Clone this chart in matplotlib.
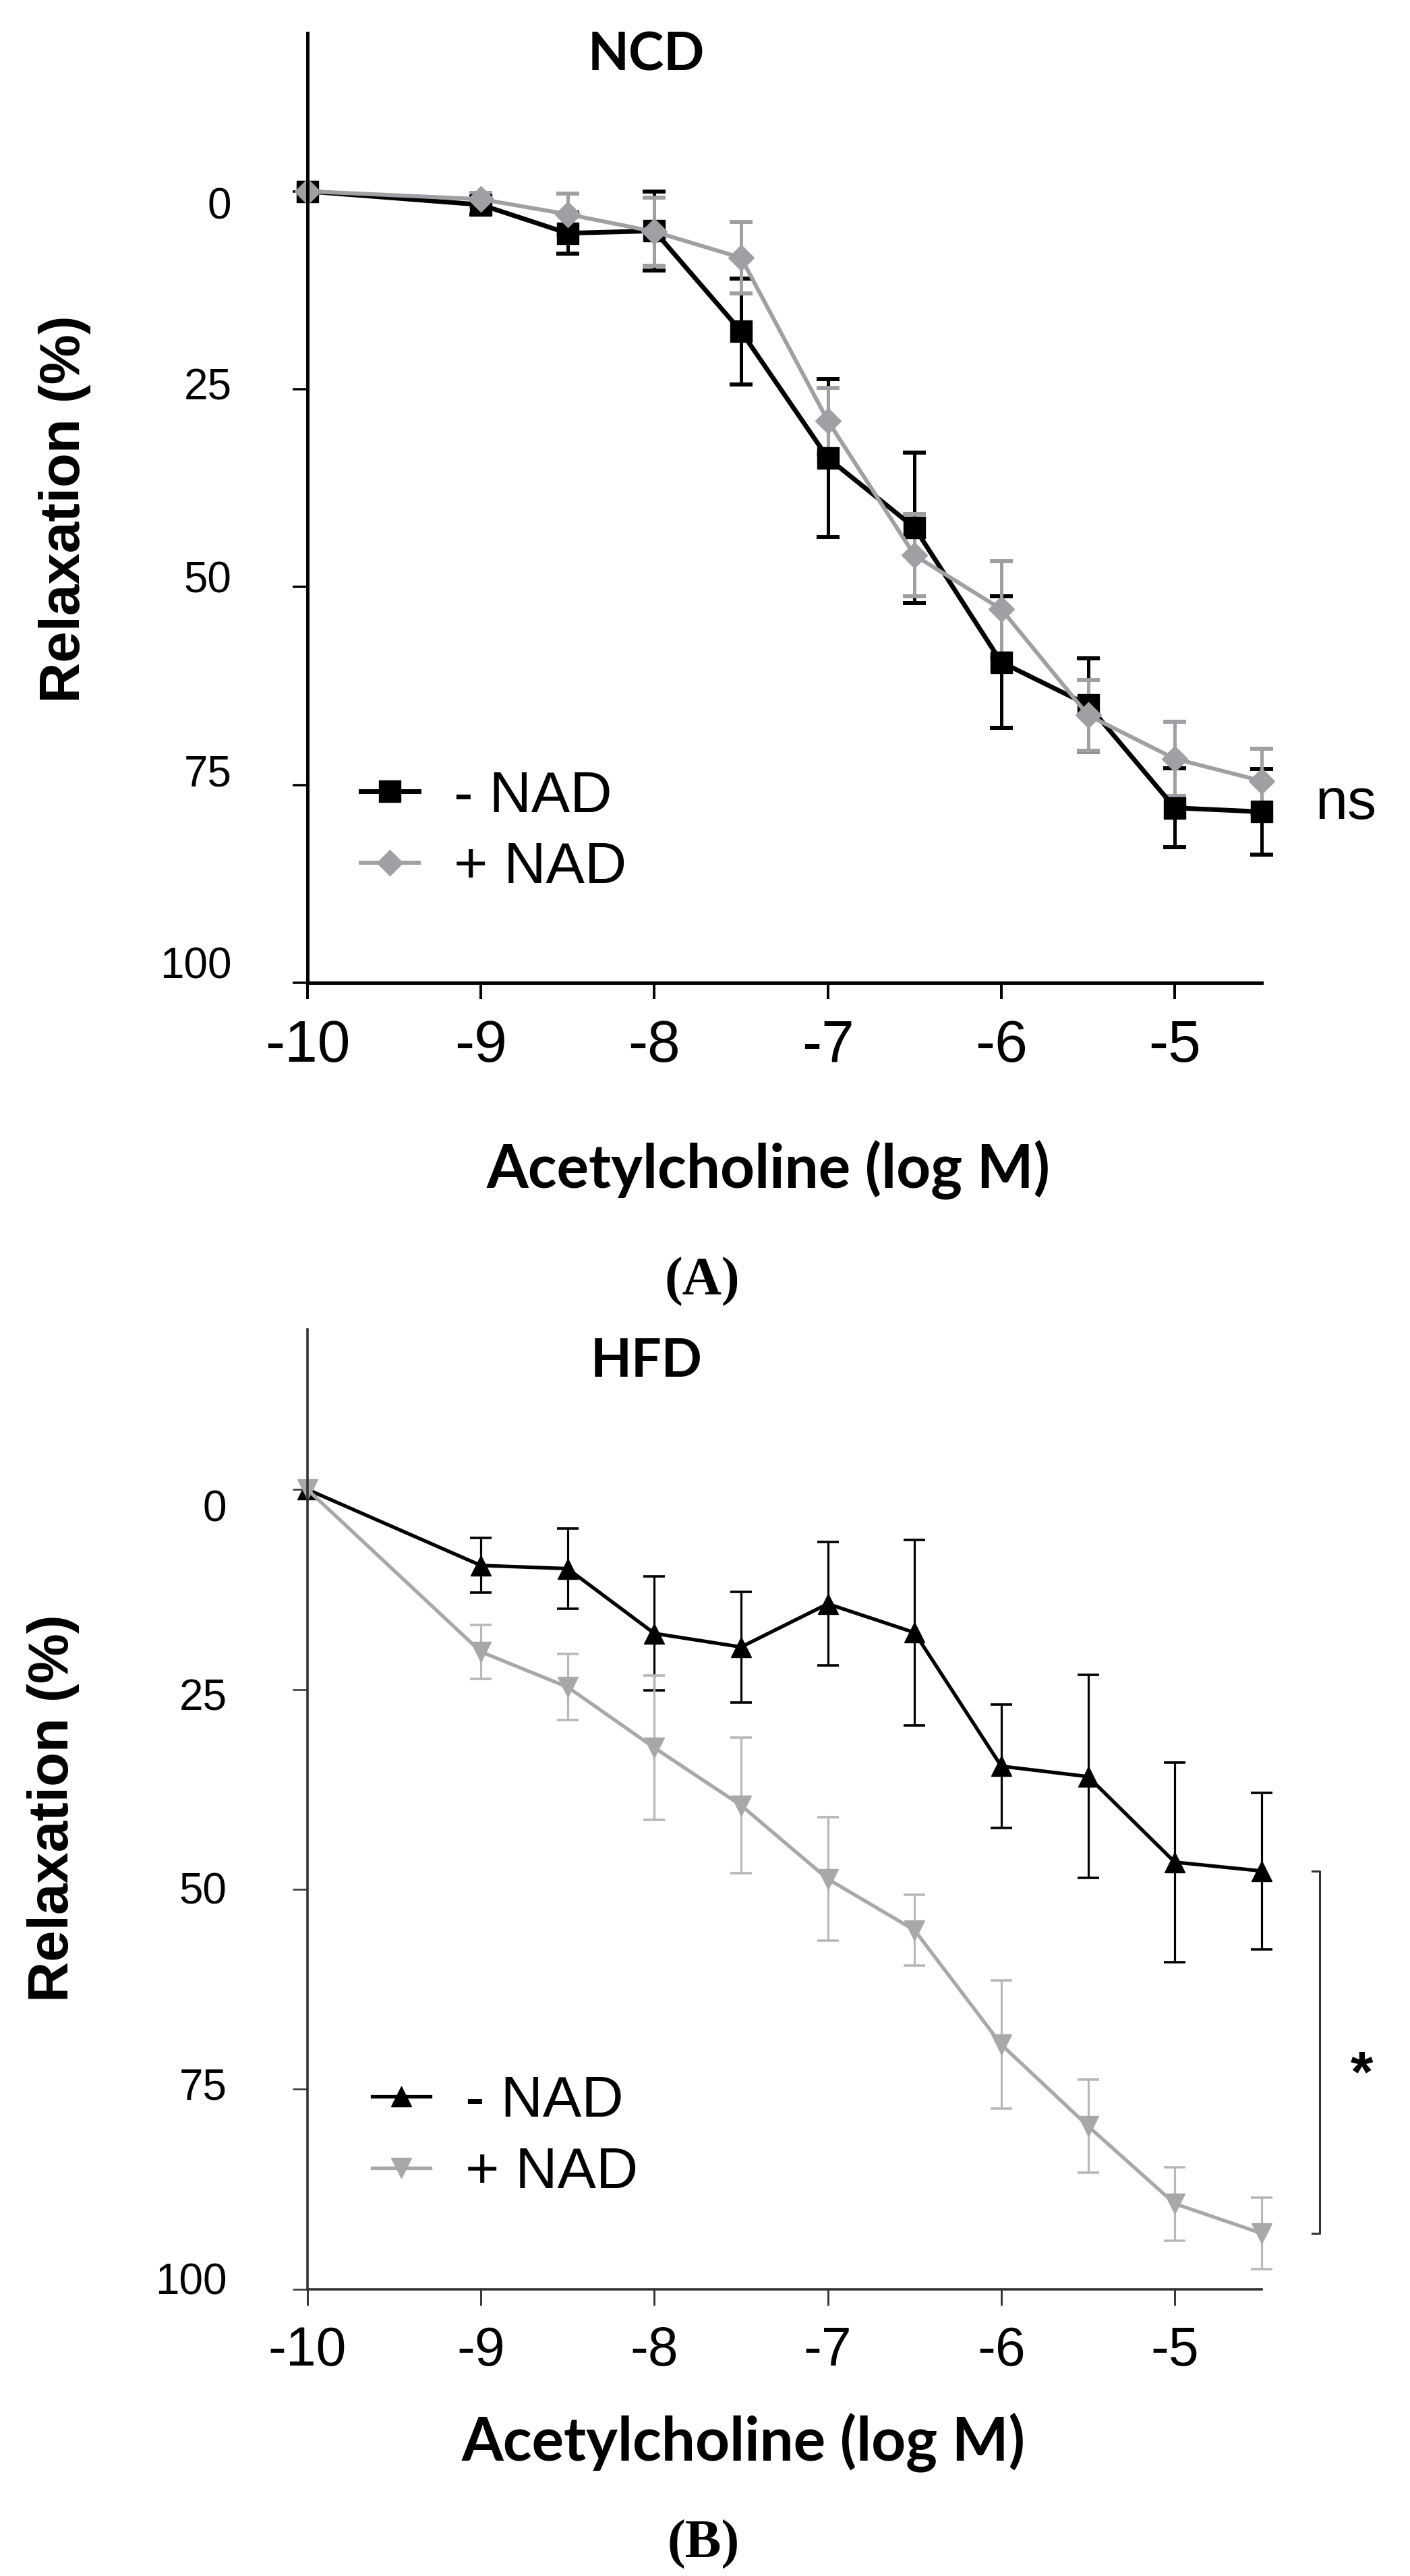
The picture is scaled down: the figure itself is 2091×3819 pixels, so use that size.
import numpy as np
import matplotlib
matplotlib.use('Agg')
import matplotlib.pyplot as plt
from matplotlib.transforms import ScaledTranslation

plt.rcParams['font.family'] = ['Liberation Sans', 'DejaVu Sans']

# acetylcholine concentrations (log M)
conc = [-10, -9, -8.5, -8, -7.5, -7, -6.5, -6, -5.5, -5, -4.5]
x_ticks = [-10, -9, -8, -7, -6, -5]
y_ticks = [0, 25, 50, 75, 100]

# NCD panel
ncd_minus = [0, 1.7, 5.3, 5.0, 17.7, 33.7, 42.5, 59.5, 64.9, 77.9, 78.4]
ncd_minus_err = [np.nan, 1.2, 2.6, 5.0, 6.7, 10.0, 9.5, 8.3, 5.9, 5.0, 5.4]
ncd_plus = [0, 1.0, 2.9, 5.1, 8.4, 29.0, 46.0, 52.8, 66.2, 71.7, 74.5]
ncd_plus_err = [np.nan, 0.8, 2.6, 4.3, 4.5, 4.2, 5.2, 6.1, 4.5, 4.7, 4.1]

# HFD panel
hfd_minus = [0, 9.5, 9.9, 18.0, 19.7, 14.3, 17.9, 34.6, 35.9, 46.6, 47.7]
hfd_minus_err = [np.nan, 3.4, 5.0, 7.1, 6.9, 7.7, 11.6, 7.7, 12.7, 12.5, 9.8]
hfd_plus = [0, 20.3, 24.7, 32.3, 39.5, 48.7, 55.1, 69.4, 79.6, 89.3, 93.0]
hfd_plus_err = [np.nan, 3.4, 4.1, 9.0, 8.5, 7.7, 4.4, 8.0, 5.8, 4.6, 4.5]

labels = ['- NAD', '+ NAD']

fig = plt.figure(figsize=(20.91, 38.19), dpi=100)
axA = fig.add_axes([0.218, 0.6185, 0.6767, 0.3687])
axB = fig.add_axes([0.218, 0.1113, 0.6767, 0.3726])


def style_axes(ax, spine_w, spine_c, xls, ylpad, label_shift):
    ax.set_xlim(-10, -4.5)
    ax.set_ylim(100, -20)
    ax.set_xticks(x_ticks)
    ax.set_xticklabels([str(t) for t in x_ticks])
    ax.set_yticks(y_ticks)
    for s in ['top', 'right']:
        ax.spines[s].set_visible(False)
    for s in ['left', 'bottom']:
        ax.spines[s].set_linewidth(spine_w)
        ax.spines[s].set_color(spine_c)
    ax.tick_params(axis='x', length=17, width=spine_w * 0.8, pad=22,
                   labelsize=xls, color=spine_c)
    ax.tick_params(axis='y', length=16, width=spine_w * 0.7, pad=ylpad,
                   labelsize=46, color=spine_c)
    # the y labels in the original sit on a slightly tighter spacing than the ticks
    for lab, dy in zip(ax.get_yticklabels(), label_shift):
        lab.set_transform(lab.get_transform() + ScaledTranslation(0, -dy / 100, fig.dpi_scale_trans))


def draw(ax, y, err, **kw):
    eb = ax.errorbar(conc, y, yerr=err, **kw)
    for art in eb.get_children():
        art.set_clip_on(False)
    return eb


# ---- (A) NCD ----
a1 = draw(axA, ncd_minus, ncd_minus_err, color='black', marker='s',
          ms=23, lw=5, elinewidth=3.6, capsize=12, capthick=4.3)
a2 = draw(axA, ncd_plus, ncd_plus_err, color='#a0a0a4', marker='D',
          ms=19, lw=4.3, elinewidth=3.6, capsize=12, capthick=4.3)
style_axes(axA, 3.6, 'black', 63, 65, [17, -8, -15, -22, -30])
axA.legend([a1[0], a2[0]], labels, loc='center left', bbox_to_anchor=(0.056, 0.158),
           frameon=False, fontsize=62, handlelength=1.0, handletextpad=0.6,
           labelspacing=0.3, borderpad=0, borderaxespad=0, numpoints=1)
axA.text(0.355, 0.976, 'NCD', transform=axA.transAxes, ha='center', va='center',
         family='Lato', fontweight='bold', fontsize=57)
axA.text(-0.254, 0.499, 'Relaxation (%)', transform=axA.transAxes, rotation=90,
         ha='center', va='center', fontweight='bold', fontsize=60)
axA.text(0.483, -0.197, 'Acetylcholine (log M)', transform=axA.transAxes,
         ha='center', va='center', family='Lato', fontweight='bold', fontsize=64)
axA.text(1.056, (ncd_minus[-1] + ncd_plus[-1]) / 2 + 1, 'ns', transform=axA.get_yaxis_transform(),
         ha='left', va='center', fontsize=62, clip_on=False)

# ---- (B) HFD ----
b1 = draw(axB, hfd_minus, hfd_minus_err, color='black', marker='^',
          ms=22, lw=3.8, elinewidth=2.3, capsize=11.5, capthick=2.6)
b2 = draw(axB, hfd_plus, hfd_plus_err, color='#a8a8a8', marker='v',
          ms=22, lw=3.8, elinewidth=2.3, capsize=11.5, capthick=2.6,
          ecolor='#b8b8b8')
style_axes(axB, 2.6, '#333333', 58, 70, [24, 7, -2, -8, -16])
axB.legend([b1[0], b2[0]], labels, loc='center left', bbox_to_anchor=(0.068, 0.158),
           frameon=False, fontsize=62, handlelength=1.0, handletextpad=0.6,
           labelspacing=0.3, borderpad=0, borderaxespad=0, numpoints=1)
axB.text(0.355, 0.966, 'HFD', transform=axB.transAxes, ha='center', va='center',
         family='Lato', fontweight='bold', fontsize=57)
axB.text(-0.266, 0.501, 'Relaxation (%)', transform=axB.transAxes, rotation=90,
         ha='center', va='center', fontweight='bold', fontsize=60)
axB.text(0.457, -0.160, 'Acetylcholine (log M)', transform=axB.transAxes,
         ha='center', va='center', family='Lato', fontweight='bold', fontsize=64)

# significance bracket
ytr = axB.get_yaxis_transform()
y0, y1 = hfd_minus[-1], hfd_plus[-1]
axB.plot([1.053, 1.061, 1.061, 1.053], [y0, y0, y1, y1], transform=ytr,
         color='#333333', lw=2.2, clip_on=False)
axB.text(1.105, (y0 + y1) / 2 + 3, '*', transform=ytr, ha='center', va='center',
         fontsize=62, fontweight='bold', clip_on=False)

fig.text(0.498, 0.5025, '(A)', ha='center', va='center', family='Liberation Serif',
         fontweight='bold', fontsize=58)
fig.text(0.499, 0.0123, '(B)', ha='center', va='center', family='Liberation Serif',
         fontweight='bold', fontsize=58)

fig.savefig('out.png', dpi=100)
